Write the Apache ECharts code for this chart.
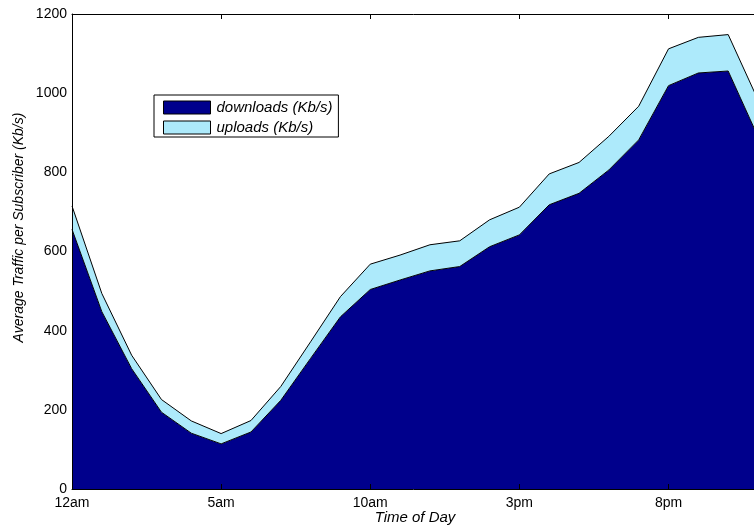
<!DOCTYPE html>
<html>
<head>
<meta charset="utf-8">
<script src="https://cdn.jsdelivr.net/npm/echarts@6/dist/echarts.min.js"></script>
<style>
  html, body { margin: 0; padding: 0; background: #fff; }
  #chart { width: 754px; height: 527px; }
</style>
</head>
<body>
<div id="chart"></div>
<script>
// hours of the day, only every 5th one gets a label
const hourLabels = ['12am', '1am', '2am', '3am', '4am', '5am', '6am', '7am', '8am', '9am', '10am', '11am',
    '12pm', '1pm', '2pm', '3pm', '4pm', '5pm', '6pm', '7pm', '8pm', '9pm', '10pm', '11pm'];

// Kb/s per subscriber
const downloads = [656, 448, 304, 194, 141, 114, 144, 224, 330, 435, 504, 528,
    551, 562, 612, 642, 718, 747, 806, 882, 1019, 1051, 1056, 890];
const uploads = [59, 46, 34, 32, 31, 26, 29, 35, 42, 51, 64, 63,
    66, 65, 68, 70, 78, 78, 85, 85, 93, 90, 92, 93];

const yTicks = { min: 0, max: 1200, interval: 200 };

const font = 'Liberation Sans, Arial, sans-serif';
const downColor = '#00008c';
const upColor = '#adeafb';

let myChart = echarts.init(document.getElementById('chart'), null, { renderer: 'canvas' });

const option = {
    backgroundColor: '#fff',
    animation: false,
    // plot runs a little past the right edge of the picture, like the cropped original
    grid: { left: 72, top: 14, width: 686, height: 475, containLabel: false, outerBoundsMode: 'none' },
    legend: {
        left: 154,
        top: 95,
        orient: 'vertical',
        icon: 'rect',
        itemWidth: 47,
        itemHeight: 13,
        itemGap: 5,
        padding: [5, 6, 2, 9],
        borderColor: '#000',
        borderWidth: 1,
        backgroundColor: '#fff',
        itemStyle: { borderColor: '#000', borderWidth: 1 },
        textStyle: { fontFamily: font, fontStyle: 'italic', fontSize: 15, color: '#000', padding: [0, 0, 0, 1] },
        data: ['downloads (Kb/s)', 'uploads (Kb/s)']
    },
    xAxis: [{
        type: 'category',
        data: hourLabels,
        boundaryGap: false,
        z: 5,
        name: 'Time of Day',
        nameLocation: 'middle',
        nameGap: 21,
        nameMoveOverlap: false,
        nameTextStyle: { fontFamily: font, fontStyle: 'italic', fontSize: 15, color: '#000' },
        axisLine: { lineStyle: { color: '#000', width: 1 } },
        axisTick: { inside: true, length: 5, interval: 4, lineStyle: { color: '#000' } },
        axisLabel: { interval: 4, margin: 7, fontFamily: font, fontSize: 14, color: '#000' },
        splitLine: { show: false }
    }, {
        type: 'category',
        data: hourLabels,
        boundaryGap: false,
        position: 'top',
        z: 5,
        axisLine: { lineStyle: { color: '#000', width: 1 } },
        axisTick: { inside: true, length: 5, interval: 4, lineStyle: { color: '#000' } },
        axisLabel: { show: false },
        splitLine: { show: false }
    }],
    yAxis: {
        type: 'value',
        min: yTicks.min,
        max: yTicks.max,
        interval: yTicks.interval,
        z: 5,
        name: 'Average Traffic per Subscriber (Kb/s)',
        nameLocation: 'middle',
        nameGap: 46,
        nameMoveOverlap: false,
        nameTextStyle: { fontFamily: font, fontStyle: 'italic', fontSize: 14, color: '#000', padding: [0, 0, 0, 48] },
        axisLine: { show: true, lineStyle: { color: '#000', width: 1 } },
        axisTick: { show: false },
        axisLabel: { margin: 5, fontFamily: font, fontSize: 14, color: '#000', formatter: v => String(v) },
        splitLine: { show: false }
    },
    series: [{
        name: 'downloads (Kb/s)',
        type: 'line',
        stack: 'traffic',
        data: downloads,
        symbol: 'none',
        itemStyle: { color: downColor },
        lineStyle: { color: '#000', width: 1 },
        areaStyle: { color: downColor, opacity: 1 }
    }, {
        name: 'uploads (Kb/s)',
        type: 'line',
        stack: 'traffic',
        data: uploads,
        symbol: 'none',
        itemStyle: { color: upColor },
        lineStyle: { color: '#000', width: 1 },
        areaStyle: { color: upColor, opacity: 1 }
    }]
};

myChart.setOption(option, true);
</script>
</body>
</html>
